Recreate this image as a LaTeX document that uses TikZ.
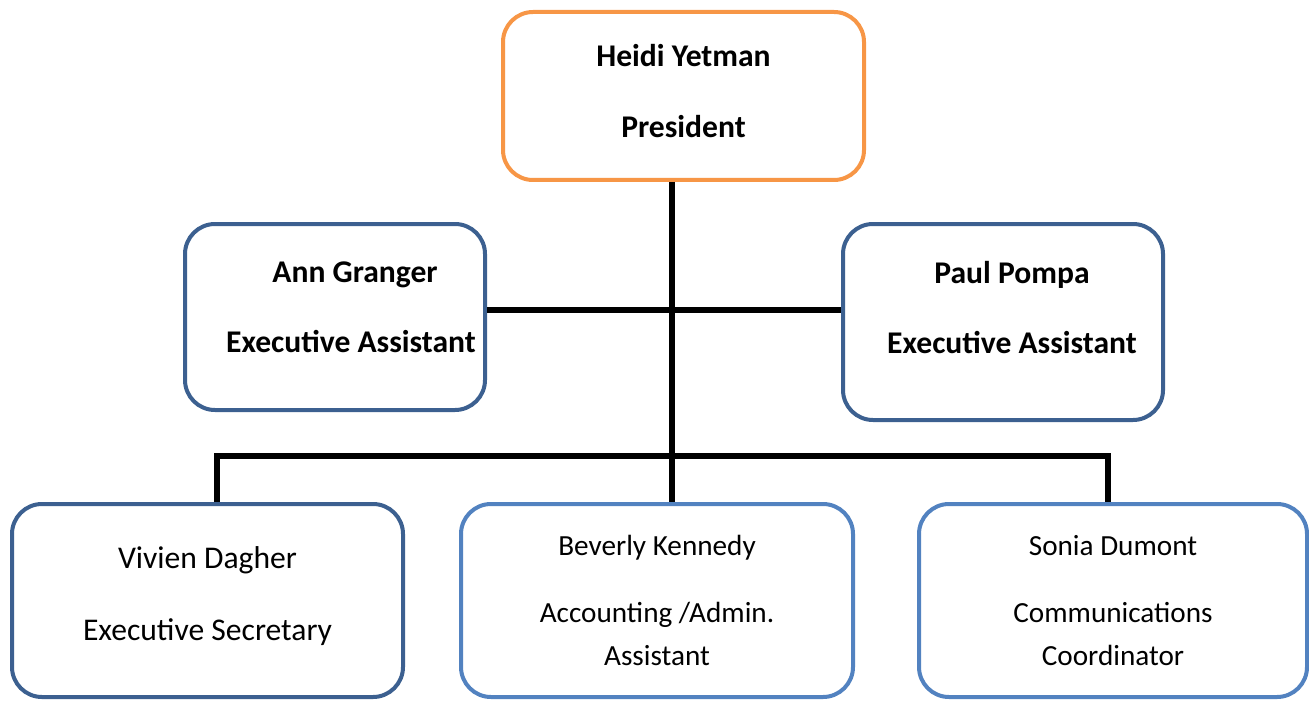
\documentclass[tikz,border=0pt]{standalone}
\usepackage{fontspec}
\setmainfont{Carlito}
\usetikzlibrary{positioning}
\definecolor{presorange}{HTML}{F79646}
\definecolor{darkblue}{HTML}{3C6090}
\definecolor{lightblue}{HTML}{5282C0}

\begin{document}
\begin{tikzpicture}[
    x=0.5pt, y=-0.5pt,
    box/.style={draw, line width=2pt, rectangle, rounded corners=15pt, align=center, inner sep=0pt, fill=white},
    boldtext/.style={font=\fontsize{15.8}{19}\selectfont\bfseries},
    plaintext/.style={font=\fontsize{15.8}{19}\selectfont},
    smalltext/.style={font=\fontsize{14.6}{21.5}\selectfont},
    link/.style={line width=3pt, black}
]
    \useasboundingbox (0,0) rectangle (1309,700);

    % President
    \node[box, boldtext, draw=presorange, minimum width=180.5pt, minimum height=84pt, text depth=5pt] (pres) at (683.5,96) {Heidi Yetman\\[16.5pt]President};

    % Executive assistants
    \node[box, boldtext, draw=darkblue, minimum width=150pt, minimum height=93pt, text depth=10pt] (ann) at (335,317) {\hspace*{20pt}Ann Granger\\[16pt]\hspace*{16pt}Executive Assistant};
    \node[box, boldtext, draw=darkblue, minimum width=160pt, minimum height=98pt, text depth=15pt] (paul) at (1003,322) {\hspace*{9pt}Paul Pompa\\[16pt]\hspace*{9pt}Executive Assistant};

    % Staff
    \node[box, plaintext, draw=darkblue, minimum width=195.5pt, minimum height=96.5pt, text depth=7pt] (viv) at (207.5,600.5) {Vivien Dagher\\[17pt]Executive Secretary};
    \node[box, smalltext, draw=lightblue, minimum width=196pt, minimum height=96.5pt] (bev) at (657,600.5) {Beverly Kennedy\\[12pt]Accounting /Admin.\\Assistant};
    \node[box, smalltext, draw=lightblue, minimum width=194pt, minimum height=96.5pt] (son) at (1113,600.5) {Sonia Dumont\\[12pt]Communications\\Coordinator};

    % Connectors
    \coordinate (trunk) at ([xshift=-5.75pt]pres.south);
    \coordinate (busl) at ([xshift=4.75pt, yshift=23pt]viv.north);
    \coordinate (busr) at ([xshift=-2.5pt, yshift=23pt]son.north);
    \draw[link] (trunk) -- (trunk |- bev.north);
    \draw[link] ([yshift=3.5pt]ann.east) -- ([yshift=3.5pt]ann.east -| paul.west);
    \draw[link] (busl |- viv.north) -- (busl) -- (busr) -- (busr |- son.north);
\end{tikzpicture}
\end{document}
